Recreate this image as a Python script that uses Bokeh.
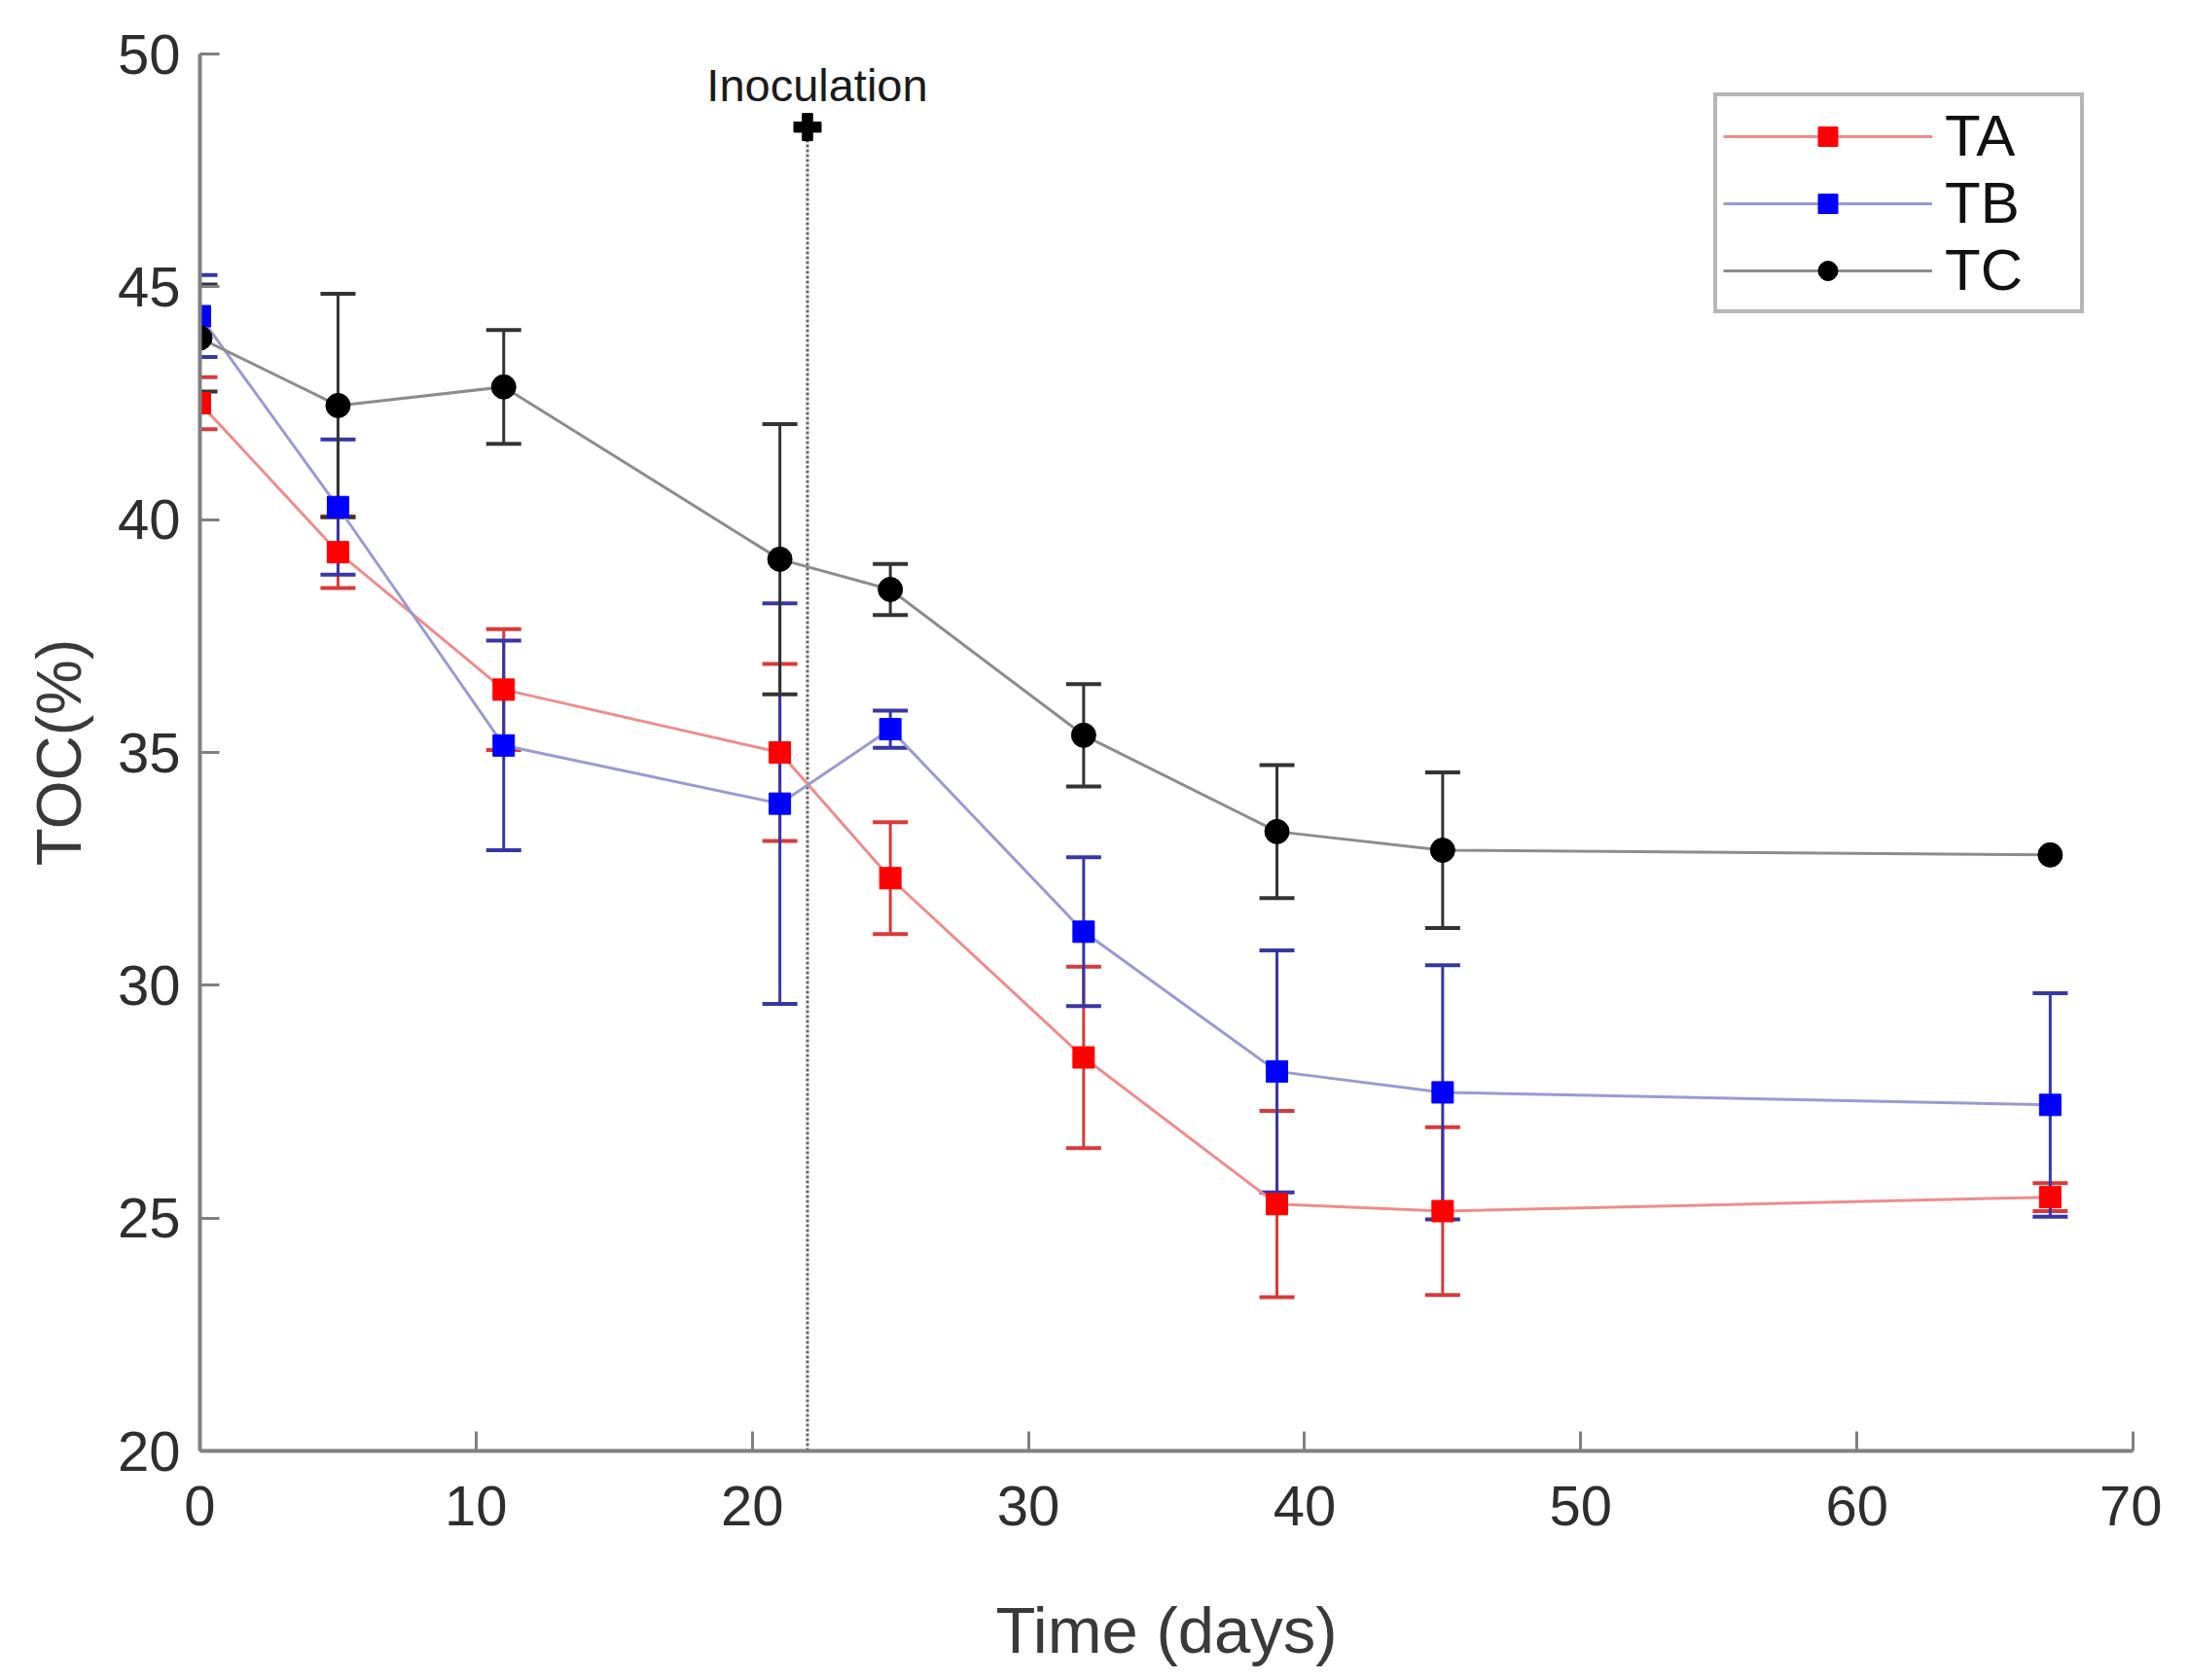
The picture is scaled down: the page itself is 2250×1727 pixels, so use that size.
import numpy as np
from bokeh.plotting import figure
from bokeh.models import (ColumnDataSource, Whisker, TeeHead, Legend, LegendItem,
                          Range1d, FixedTicker)
from bokeh.core.properties import value
from bokeh.embed import file_html
from bokeh.resources import INLINE

# ---- data ----
days = [0, 5, 11, 21, 25, 32, 39, 45, 67]
ta = [42.5, 39.3, 36.35, 35.0, 32.3, 28.45, 25.3, 25.15, 25.45]
ta_err = [0.56, 0.77, 1.3, 1.9, 1.2, 1.95, 2.0, 1.8, 0.3]
tb = [44.37, 40.27, 35.15, 33.9, 35.5, 31.15, 28.15, 27.7, 27.43]
tb_err = [0.88, 1.45, 2.25, 4.3, 0.4, 1.6, 2.6, 2.73, 2.4]
tc = [43.9, 42.45, 42.85, 39.15, 38.5, 35.37, 33.3, 32.9, 32.8]
tc_err = [1.15, 2.4, 1.22, 2.9, 0.55, 1.1, 1.43, 1.67, 0.0]

x_ticks = [0, 10, 20, 30, 40, 50, 60, 70]
y_ticks = [20, 25, 30, 35, 40, 45, 50]

inoc_day = 22
inoc_top = 48.43
inoc_label = "Inoculation"

FONT = "Liberation Sans"

p = figure(output_backend="svg", toolbar_location=None,
           frame_width=1987, frame_height=1436,
           x_range=Range1d(0, 70), y_range=Range1d(20, 50),
           min_border_left=205, min_border_top=55, min_border_bottom=200,
           min_border_right=30, background_fill_color="white",
           border_fill_color="white")
p.outline_line_color = None
p.xgrid.visible = False
p.ygrid.visible = False

for ax in (p.xaxis[0], p.yaxis[0]):
    ax.axis_line_color = "#808080"
    ax.axis_line_width = 4
    ax.major_tick_line_color = "#808080"
    ax.major_tick_line_width = 3
    ax.major_tick_in = 20
    ax.major_tick_out = 0
    ax.minor_tick_line_color = None
    ax.major_label_text_font = FONT
    ax.major_label_text_font_size = "58px"
    ax.major_label_text_color = "#2e2e2e"
    ax.major_label_text_line_height = 1.0
    ax.axis_label_text_font = FONT
    ax.axis_label_text_font_style = "normal"
    ax.axis_label_text_color = "#3a3a3a"
    ax.axis_label_text_line_height = 1.0

p.xaxis.ticker = FixedTicker(ticks=x_ticks)
p.yaxis.ticker = FixedTicker(ticks=y_ticks)
p.xaxis.major_label_standoff = 36
p.yaxis.major_label_standoff = 20
p.xaxis.axis_label = "Time (days)"
p.yaxis.axis_label = "TOC(%)"
p.xaxis.axis_label_text_font_size = "67px"
p.yaxis.axis_label_text_font_size = "64px"
p.xaxis.axis_label_standoff = 67
p.yaxis.axis_label_standoff = 21

# inoculation marker line
p.segment(x0=[inoc_day], y0=[p.y_range.start], x1=[inoc_day], y1=[inoc_top],
          line_color="#6a6a6a", line_width=3, line_dash="3 2")
p.scatter(x=[inoc_day], y=[inoc_top], marker="plus", size=28, color="black")
p.text(x=[inoc_day], y=[inoc_top], text=[inoc_label], text_font=value(FONT),
       text_font_size="47px", text_align="center", text_baseline="alphabetic",
       x_offset=10, y_offset=-43, text_color="#1a1a1a")

series = [
    ("TA", ta, ta_err, "#ee8c8c", "#d93a3a", "#ff0000", "square", 22),
    ("TB", tb, tb_err, "#9a9ad2", "#3636a6", "#0000ff", "square", 22),
    ("TC", tc, tc_err, "#8c8c8c", "#333333", "#000000", "circle", 25),
]

items = []
for name, vals, errs, lcol, ecol, mcol, mk, sz in series:
    v = np.array(vals, dtype=float)
    e = np.array(errs, dtype=float)
    d = np.array(days, dtype=float)
    src = ColumnDataSource(dict(x=d, y=v))
    line_r = p.line("x", "y", source=src, line_color=lcol, line_width=3)
    keep = e > 0
    wsrc = ColumnDataSource(dict(x=d[keep], upper=(v + e)[keep], lower=(v - e)[keep]))
    w = Whisker(base="x", upper="upper", lower="lower", source=wsrc,
                dimension="height", line_color=ecol, line_width=3,
                upper_head=TeeHead(size=36, line_color=ecol, line_width=4),
                lower_head=TeeHead(size=36, line_color=ecol, line_width=4))
    p.add_layout(w)
    mk_r = p.scatter("x", "y", source=src, marker=mk, size=sz,
                     fill_color=mcol, line_color=mcol)
    items.append(LegendItem(label=name, renderers=[line_r, mk_r]))

legend = Legend(items=items, location=(1556, 1169))
legend.label_text_font = FONT
legend.label_text_font_size = "60px"
legend.label_text_color = "#111111"
legend.glyph_width = 215
legend.glyph_height = 50
legend.label_height = 50
legend.label_width = 133
legend.label_standoff = 13
legend.spacing = 0
legend.padding = 6
legend.margin = 0
legend.border_line_color = "#6e6e6e"
legend.border_line_width = 4
legend.background_fill_color = "white"
legend.background_fill_alpha = 1.0
p.add_layout(legend)

open("out.html", "w").write(file_html(p, INLINE))
